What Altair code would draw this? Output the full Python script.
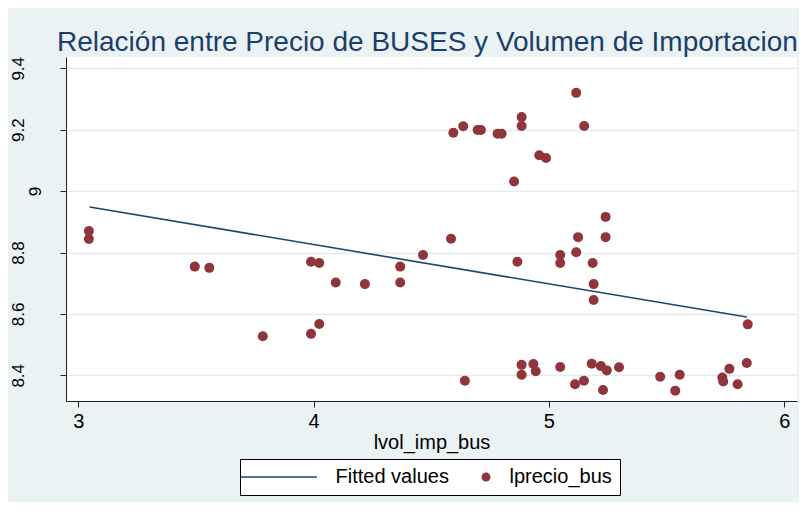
import altair as alt
import pandas as pd

# ---- data ----
lvol_imp_bus = [3.045, 3.045, 3.495, 3.557, 3.784, 3.989, 4.024, 3.989, 4.024, 4.094,
                4.218, 4.368, 4.368, 4.465, 4.584, 4.866, 5.048, 5.048, 5.124, 5.116,
                5.241, 5.241, 5.186, 5.190, 5.190, 4.594, 4.636, 4.697, 4.711, 4.782,
                4.799, 4.884, 4.884, 5.116, 5.150, 4.959, 4.988, 4.852, 4.643, 4.884,
                4.884, 4.934, 4.944, 5.048, 5.111, 5.149, 5.182, 5.221, 5.246, 5.230,
                5.298, 5.473, 5.556, 5.537, 5.737, 5.741, 5.767, 5.802, 5.841, 5.845]
lprecio_bus = [8.870, 8.844, 8.754, 8.750, 8.527, 8.770, 8.766, 8.535, 8.567, 8.702,
               8.697, 8.754, 8.702, 8.792, 8.845, 8.770, 8.792, 8.766, 8.850, 8.801,
               8.916, 8.850, 8.766, 8.697, 8.645, 9.190, 9.211, 9.199, 9.199, 9.187,
               9.187, 9.241, 9.212, 9.320, 9.212, 9.117, 9.108, 9.031, 8.382, 8.434,
               8.402, 8.437, 8.413, 8.427, 8.371, 8.382, 8.438, 8.430, 8.416, 8.352,
               8.426, 8.395, 8.402, 8.350, 8.393, 8.380, 8.421, 8.371, 8.440, 8.566]
fit_x = [3.048, 5.841]
fit_y = [8.948, 8.590]

series_names = ["Fitted values", "lprecio_bus"]
x_ticks = [3, 4, 5, 6]
y_ticks = [8.4, 8.6, 8.8, 9.0, 9.2, 9.4]
title_text = "Relación entre Precio de BUSES y Volumen de Importacion"

NAVY = "#1A476F"
MAROON = "#90353B"
BG = "#EAF2F3"
FONT = "Liberation Sans"

pts = pd.DataFrame({"x": lvol_imp_bus, "y": lprecio_bus, "series": "lprecio_bus"})
fit = pd.DataFrame({"x": fit_x, "y": fit_y})

xscale = alt.Scale(domain=[2.9477, 6.0544], nice=False, zero=False)
yscale = alt.Scale(domain=[8.3163, 9.4368], nice=False, zero=False)

xaxis = alt.Axis(values=x_ticks, format="d", grid=False, title="lvol_imp_bus",
                 labelFontSize=20, titleFontSize=20, labelFont=FONT, titleFont=FONT,
                 titleFontWeight="normal", labelColor="black", titleColor="black",
                 tickSize=6, labelPadding=4, titlePadding=1,
                 domainColor="#222222", tickColor="#222222")
yaxis = alt.Axis(values=y_ticks, format=".1~f", grid=True, title=None,
                 labelFontSize=17, labelFont=FONT, labelColor="black",
                 labelAngle=270, labelAlign="center",
                 labelBaseline={"condition": {"test": "datum.value == 9", "value": "top"},
                                "value": "bottom"},
                 labelPadding=32.5, tickSize=6,
                 gridColor="#E3EBEE", gridWidth=1.5,
                 domainColor="#222222", tickColor="#222222")

legend = alt.Legend(title=" ", titleOrient="left", titleFontSize=1, titlePadding=54,
                    orient="none", legendX=174, legendY=402,
                    direction="horizontal", labelFontSize=20, labelFont=FONT,
                    labelColor="black", symbolSize=80, symbolStrokeWidth=0,
                    labelOffset=13.5, columnPadding=27, padding=8,
                    strokeColor="black", fillColor="white", symbolOpacity=1)

line_path = "M-15.9,-0.17H1.1V0.17H-15.9Z"

line = alt.Chart(fit).mark_line(color=NAVY, strokeWidth=1.6).encode(
    x=alt.X("x:Q", scale=xscale, axis=xaxis),
    y=alt.Y("y:Q", scale=yscale, axis=yaxis),
)

points = alt.Chart(pts).mark_point(filled=True, size=100, opacity=1).encode(
    x=alt.X("x:Q", scale=xscale, axis=xaxis),
    y=alt.Y("y:Q", scale=yscale, axis=yaxis),
    color=alt.Color("series:N", scale=alt.Scale(domain=series_names, range=[NAVY, MAROON]),
                    legend=legend),
    shape=alt.Shape("series:N", scale=alt.Scale(domain=series_names, range=[line_path, "circle"]),
                    legend=legend),
)

chart = alt.layer(points, line).properties(
    width=731, height=344,
    title=alt.TitleParams(title_text, anchor="start", fontSize=28, font=FONT,
                          fontWeight="normal", color="#1B3F6B", dx=-9, dy=29, offset=6,
                          baseline="alphabetic", frame="group"),
    autosize=alt.AutoSizeParams(type="none"),
    padding={"left": 58, "top": 49, "right": 2, "bottom": 101},
    background=BG,
).configure_view(fill="white", strokeWidth=0)

chart.save("out.html", embed_options={"renderer": "svg", "actions": False})
